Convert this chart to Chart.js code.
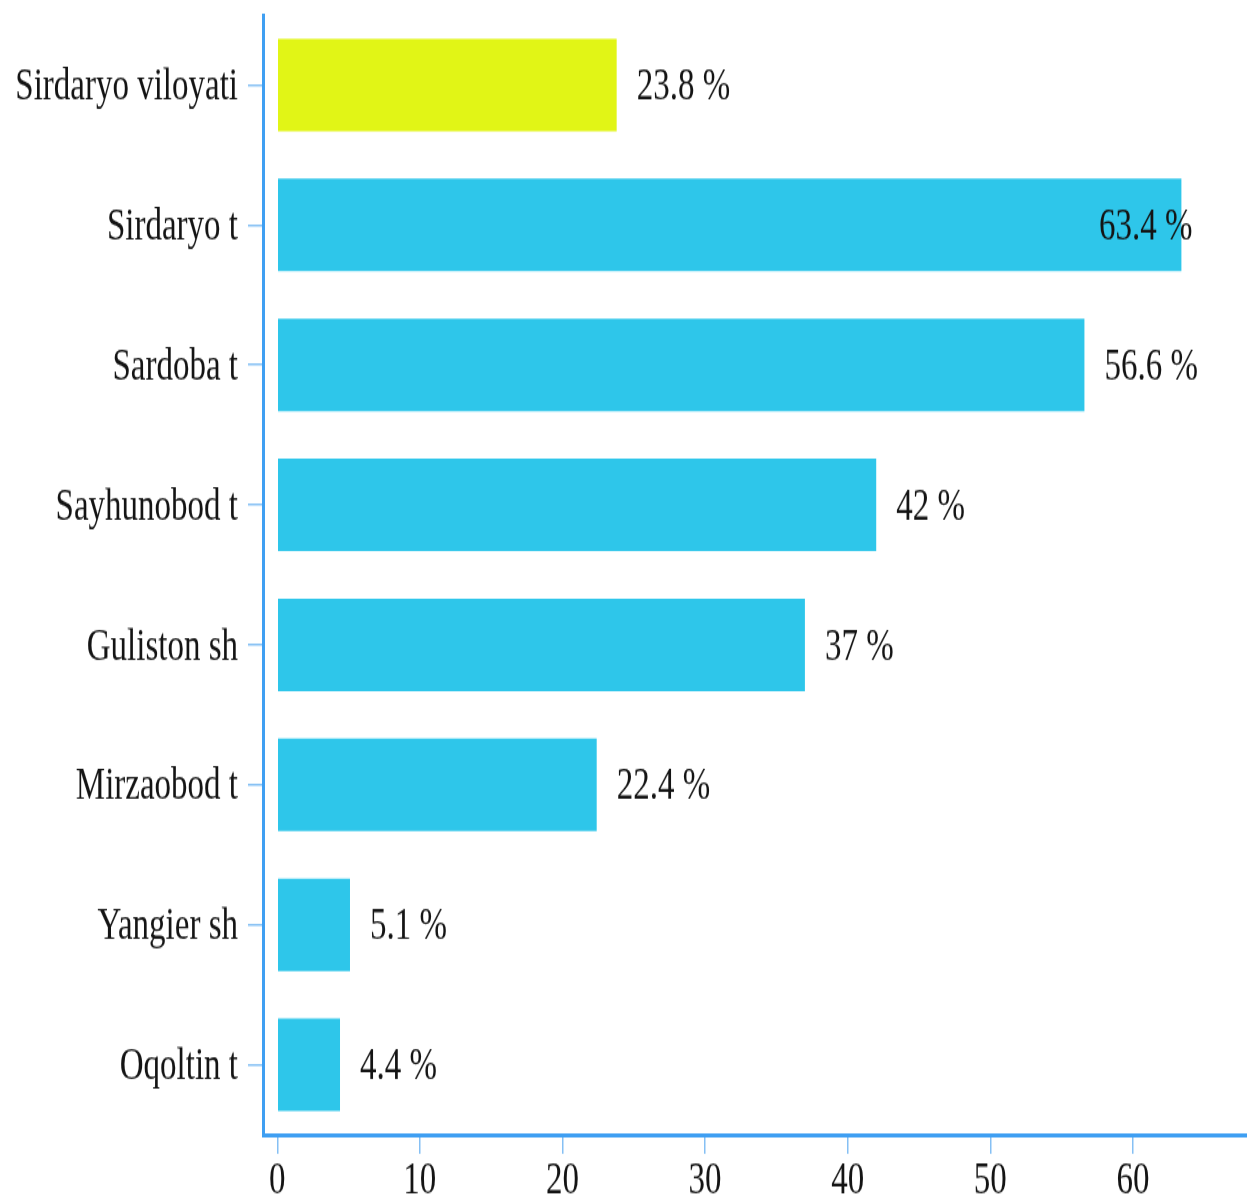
<!DOCTYPE html>
<html>
<head>
<meta charset="utf-8">
<script src="https://cdn.jsdelivr.net/npm/chart.js@4.4.0/dist/chart.umd.min.js"></script>
<style>
  body { margin: 0; overflow: hidden; background: #fff; }
</style>
</head>
<body>
<!-- the reference is stretched vertically: draw at 879 high, show at 1196 -->
<canvas id="chart" width="1247" height="879" style="display:block;width:1247px;height:1196px"></canvas>
<script>
const categories = ['Sirdaryo viloyati', 'Sirdaryo t', 'Sardoba t', 'Sayhunobod t', 'Guliston sh', 'Mirzaobod t', 'Yangier sh', 'Oqoltin t'];
const values = [23.8, 63.4, 56.6, 42, 37, 22.4, 5.1, 4.4];
const barColors = ['#e1f516', '#2ec6ea', '#2ec6ea', '#2ec6ea', '#2ec6ea', '#2ec6ea', '#2ec6ea', '#2ec6ea'];
const xTicks = [0, 10, 20, 30, 40, 50, 60];

const serif = "'Liberation Serif', 'Times New Roman', serif";
const axisColor = '#3f9ff2';
const tickColor = '#86c0f4';
const textColor = '#141414';

// labels "23.8 %" right of each bar
const valueLabels = {
  id: 'valueLabels',
  afterDatasetsDraw(chart) {
    const ctx = chart.ctx;
    const meta = chart.getDatasetMeta(0);
    ctx.save();
    ctx.font = '33px ' + serif;
    ctx.fillStyle = textColor;
    ctx.textBaseline = 'middle';
    ctx.textAlign = 'left';
    meta.data.forEach(function(bar, i) {
      const txt = values[i] + ' %';
      const w = ctx.measureText(txt).width;
      let x = bar.x + 20;
      if (values[i] >= 60) x = bar.x - w + 11; // no room, put it over the bar end
      ctx.fillText(txt, x, bar.y + 2);
    });
    ctx.restore();
  }
};

new Chart(document.getElementById('chart'), {
  type: 'bar',
  data: {
    labels: categories,
    datasets: [{
      data: values,
      backgroundColor: barColors,
      borderWidth: 0,
      categoryPercentage: 1,
      barPercentage: 0.66
    }]
  },
  options: {
    indexAxis: 'y',
    responsive: false,
    animation: false,
    layout: { padding: { top: 11, right: 0, left: 0, bottom: 0 } },
    plugins: {
      legend: { display: false },
      tooltip: { enabled: false }
    },
    scales: {
      x: {
        min: -1,
        max: 68,
        afterBuildTicks: function(scale) {
          scale.ticks = xTicks.map(function(v) { return { value: v }; });
        },
        afterFit: function(scale) { scale.height = 45; },
        ticks: {
          color: textColor,
          padding: 4,
          font: { family: serif, size: 33, lineHeight: 1 },
          maxRotation: 0
        },
        grid: { drawOnChartArea: false, drawTicks: true, tickLength: 14, color: tickColor, lineWidth: 1.5 },
        border: { display: true, color: axisColor, width: 3 }
      },
      y: {
        afterFit: function(scale) {
          scale.width = 263;
          scale.paddingTop = 0;
          scale.paddingBottom = 0;
        },
        ticks: {
          color: textColor,
          padding: 10,
          labelOffset: 2,
          font: { family: serif, size: 33 }
        },
        grid: { drawOnChartArea: false, drawTicks: true, tickLength: 15, offset: false, color: tickColor, lineWidth: 1.5 },
        border: { display: true, color: axisColor, width: 3 }
      }
    }
  },
  plugins: [valueLabels]
});
</script>
</body>
</html>
